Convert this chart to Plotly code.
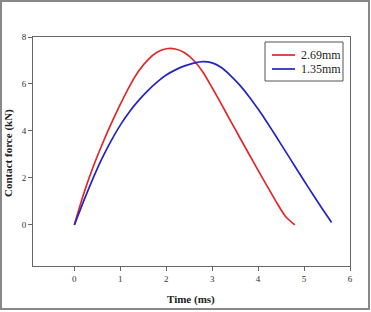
import plotly.graph_objects as go

# Data (time in ms, force in kN)
t_red = [0, 0.2, 0.4, 0.6, 0.8, 1.0, 1.2, 1.4, 1.6, 1.8, 2.0, 2.2, 2.4, 2.6, 2.8, 3.0, 3.2, 3.4, 3.6, 3.8, 4.0, 4.2, 4.4, 4.6, 4.8]
f_red = [0, 1.3, 2.42, 3.4, 4.3, 5.13, 5.9, 6.55, 7.03, 7.35, 7.5, 7.49, 7.33, 7.0, 6.5, 5.84, 5.14, 4.43, 3.72, 3.02, 2.32, 1.64, 0.96, 0.35, 0.0]
t_blue = [0, 0.2, 0.4, 0.6, 0.8, 1.0, 1.2, 1.4, 1.6, 1.8, 2.0, 2.2, 2.4, 2.6, 2.8, 3.0, 3.2, 3.4, 3.6, 3.8, 4.0, 4.2, 4.4, 4.6, 4.8, 5.0, 5.2, 5.4, 5.6]
f_blue = [0, 1.0, 1.95, 2.82, 3.58, 4.25, 4.82, 5.3, 5.72, 6.08, 6.38, 6.6, 6.77, 6.89, 6.95, 6.9, 6.7, 6.36, 5.95, 5.47, 4.93, 4.35, 3.74, 3.12, 2.5, 1.88, 1.27, 0.68, 0.1]
series_names = ["2.69mm", "1.35mm"]
series_colors = ["#e02828", "#2424c0"]
x_ticks = [0, 1, 2, 3, 4, 5, 6]
y_ticks = [0, 2, 4, 6, 8]

W, H = 371, 312
L, R, T, B = 33, 350, 37, 266  # plot box in pixels


def px(x):
    return (x - L) / (R - L)


def py(y):
    return (B - y) / (B - T)


fig = go.Figure()
for t, f, name, col in [(t_red, f_red, series_names[0], series_colors[0]),
                        (t_blue, f_blue, series_names[1], series_colors[1])]:
    fig.add_trace(go.Scatter(x=t, y=f, mode="lines", name=name, showlegend=False,
                             line=dict(color=col, width=1.7, shape="spline", smoothing=0.6)))

axis_common = dict(showgrid=False, zeroline=False, showline=True, linecolor="#666666", linewidth=1,
                   mirror=True, ticks="outside", ticklen=4, tickcolor="#666666", tickwidth=1,
                   automargin=False,
                   tickfont=dict(family="Liberation Serif", size=9, color="#333333"))

shapes = [dict(type="rect", xref="paper", yref="paper", x0=px(1), x1=px(369), y0=py(309), y1=py(1),
               line=dict(color="#888888", width=2), fillcolor="rgba(0,0,0,0)", layer="below"),
          dict(type="rect", xref="paper", yref="paper", x0=px(265), x1=px(343), y0=py(81), y1=py(42),
               line=dict(color="#555555", width=1), fillcolor="white", layer="above")]
annotations = []
for i, (name, col) in enumerate(zip(series_names, series_colors)):
    yy = 55 + 14 * i
    shapes.append(dict(type="line", xref="paper", yref="paper", x0=px(272), x1=px(295), y0=py(yy), y1=py(yy),
                       line=dict(color=col, width=1.7), layer="above"))
    annotations.append(dict(text=name, xref="paper", yref="paper", x=px(299), y=py(yy), xanchor="left",
                            yanchor="middle", showarrow=False,
                            font=dict(family="Liberation Serif", size=12, color="#222222")))

annotations.append(dict(text="<b>Time (ms)</b>", xref="paper", yref="paper", x=px(191), y=py(299),
                        xanchor="center", yanchor="middle", showarrow=False,
                        font=dict(family="Liberation Serif", size=11, color="#222222")))
annotations.append(dict(text="<b>Contact force (kN)</b>", xref="paper", yref="paper", x=px(8), y=py(153),
                        xanchor="center", yanchor="middle", showarrow=False, textangle=-90,
                        font=dict(family="Liberation Serif", size=11, color="#222222")))

fig.update_layout(
    width=W, height=H,
    margin=dict(l=L, r=W - R, t=T, b=H - B),
    paper_bgcolor="white", plot_bgcolor="white",
    showlegend=False,
    xaxis=dict(range=[-0.9, 6], tickvals=x_ticks, ticktext=[str(v) for v in x_ticks], **axis_common),
    yaxis=dict(range=[-1.75, 8], tickvals=y_ticks, ticktext=[str(v) for v in y_ticks], **axis_common),
    shapes=shapes,
    annotations=annotations,
)

fig.write_html("out.html")
